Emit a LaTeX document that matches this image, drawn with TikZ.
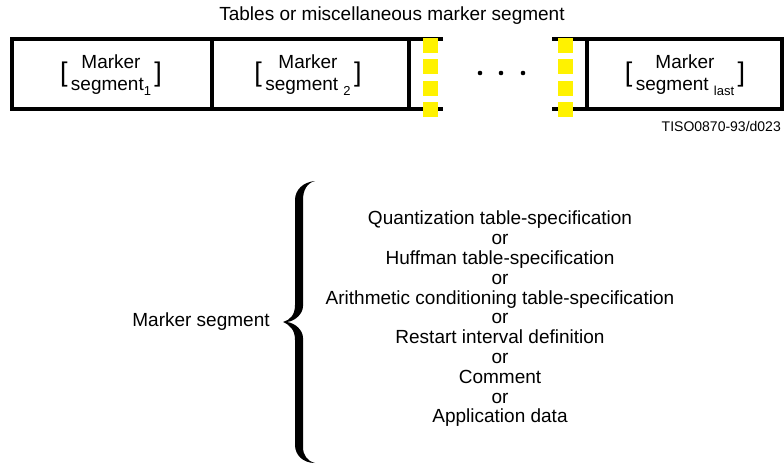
\documentclass[tikz,border=0pt]{standalone}
\usepackage{fontspec}
\setmainfont{Liberation Sans}
\usetikzlibrary{positioning}
\tikzset{
  txt/.style={font=\fontsize{19}{22}\selectfont, inner sep=0pt, align=center},
  brk/.style={font=\fontsize{27}{27}\selectfont, inner sep=0pt},
  frame/.style={line width=4pt},
}
\newcommand{\segsub}[1]{\raisebox{-5pt}{\fontsize{13}{13}\selectfont #1}}
\begin{document}
\begin{tikzpicture}[x=1pt,y=-1pt]
  \useasboundingbox (0,0) rectangle (784,464);
  %Title
  \node[txt] (title) at (392,16) {Tables or miscellaneous marker segment};
  %Frame
  \draw[frame] (443,39)--(12,39)--(12,109)--(443,109) (212,39)--(212,109) (409,39)--(409,109);
  \draw[frame] (552,39)--(782,39)--(782,109)--(552,109) (587,39)--(587,109);
  %Yellow marks
  \foreach \y in {38,59.3,80.7,102}{
    \fill[yellow] (423,\y) rectangle ++(15,15);
    \fill[yellow] (558,\y) rectangle ++(15,15);
  }
  \fill (480,73) circle (2.3) (501,73) circle (2.3) (523,73) circle (2.3);
  %Segments
  \node[txt] (seg1) at (111,75) {Marker\\segment\segsub{1}};
  \node[brk, left=3pt of seg1] (l1) {[};
  \node[brk, right=3pt of seg1] (r1) {]};
  \node[txt] (seg2) at (308,75) {Marker\\segment \segsub{2}};
  \node[brk, left=3pt of seg2] (l2) {[};
  \node[brk, right=3pt of seg2] (r2) {]};
  \node[txt] (seglast) at (685,75) {Marker\\segment \segsub{last}};
  \node[brk, left=3pt of seglast] (l3) {[};
  \node[brk, right=3pt of seglast] (r3) {]};
  \node[font=\fontsize{14}{14}\selectfont, inner sep=0pt, anchor=south east] (tiso) at (781,132) {TISO0870-93/d023};
  %Brace
  \node[txt] (ms) at (201,322) {Marker segment};
  \fill (315,181) .. controls (303,182) and (295,190) .. (295,200) -- (295,305)
    .. controls (295,315) and (290,320) .. (283,322)
    .. controls (290,325) and (295,330) .. (295,340) -- (295,445)
    .. controls (295,455) and (303,463) .. (315,463)
    .. controls (307,461) and (303,455) .. (303,447) -- (303,338)
    .. controls (303,330) and (295,323) .. (287,322)
    .. controls (295,321) and (303,314) .. (303,306) -- (303,200)
    .. controls (303,190) and (307,183) .. (315,181) -- cycle;
  \node[txt, font=\fontsize{19}{19.8}\selectfont] (kinds) at (500,319) {Quantization table-specification\\or\\Huffman table-specification\\or\\Arithmetic conditioning table-specification\\or\\Restart interval definition\\or\\Comment\\or\\Application data};
\end{tikzpicture}
\end{document}
